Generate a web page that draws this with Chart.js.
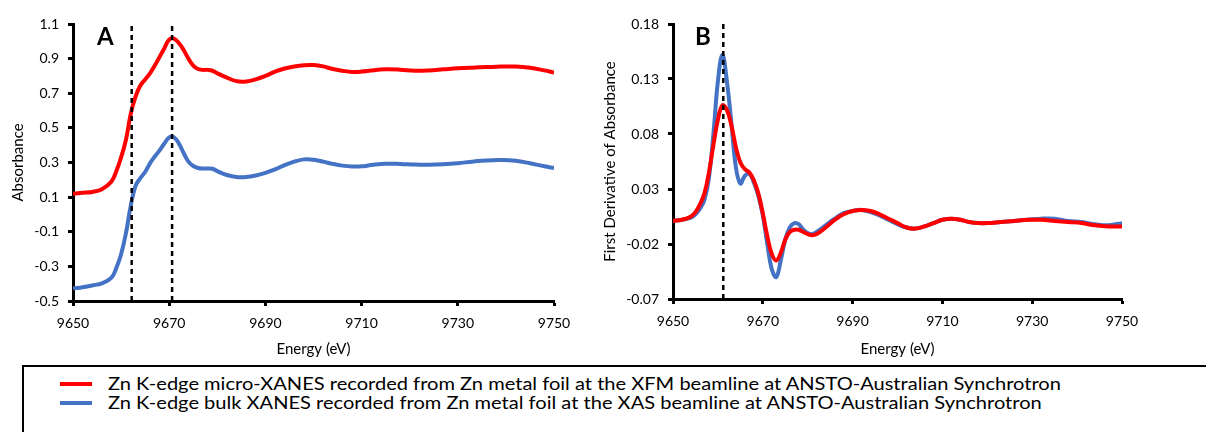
<!DOCTYPE html>
<html><head><meta charset="utf-8">
<script src="https://cdn.jsdelivr.net/npm/chart.js@4.4.1/dist/chart.umd.min.js"></script>
<style>
html,body{margin:0;padding:0;background:#fff;width:1206px;height:432px;overflow:hidden;position:relative;font-family:Lato,sans-serif;}
#cA{position:absolute;left:0;top:0;}
#cB{position:absolute;left:600px;top:0;}
#legend{position:absolute;left:22px;top:365px;width:1300px;height:120px;border-left:2px solid #000;border-top:2px solid #000;}
.sw{position:absolute;left:36px;width:32px;height:4px;}
.lt{position:absolute;left:84px;white-space:nowrap;font-size:17px;line-height:20px;color:#000;transform:scaleX(1.18);transform-origin:0 50%;}
</style></head><body>
<canvas id="cA" width="600" height="360"></canvas>
<canvas id="cB" width="606" height="360"></canvas>
<div id="legend"></div>
<script>
// ---------- data ----------
const seriesLabels = [
  "Zn K-edge micro-XANES recorded from Zn metal foil at the XFM beamline at ANSTO-Australian Synchrotron",
  "Zn K-edge bulk XANES recorded from Zn metal foil at the XAS beamline at ANSTO-Australian Synchrotron"
];
const seriesColors = ["#FF0000", "#4472C4"];

const energyA = [9650,9652,9654,9656,9658,9659,9660,9661,9662,9663,9664,9665,9666,9667,9668,9669,9670,9671,9672,9673,9674,9675,9676,9677,9678,9679,9680,9682,9684,9686,9688,9690,9692,9694,9696,9698,9700,9702,9704,9706,9708,9710,9712,9715,9718,9721,9724,9727,9730,9733,9736,9739,9742,9745,9748,9750];
const microA = [0.12,0.125,0.13,0.145,0.19,0.25,0.33,0.43,0.58,0.68,0.745,0.78,0.815,0.86,0.91,0.96,1.01,1.015,0.99,0.95,0.9,0.86,0.84,0.835,0.835,0.83,0.815,0.79,0.77,0.768,0.78,0.8,0.825,0.843,0.855,0.862,0.863,0.855,0.84,0.83,0.823,0.825,0.832,0.838,0.836,0.83,0.832,0.838,0.844,0.848,0.851,0.854,0.854,0.847,0.832,0.82];
const bulkA = [-0.427,-0.42,-0.41,-0.398,-0.365,-0.31,-0.23,-0.11,0.05,0.165,0.21,0.245,0.295,0.335,0.37,0.41,0.445,0.445,0.41,0.355,0.305,0.28,0.268,0.265,0.266,0.264,0.25,0.228,0.216,0.216,0.225,0.24,0.26,0.285,0.305,0.318,0.316,0.305,0.292,0.282,0.277,0.278,0.285,0.293,0.292,0.288,0.287,0.29,0.296,0.305,0.312,0.314,0.31,0.296,0.278,0.268];

const energyB = [9650,9652,9654,9655,9656,9657,9658,9659,9660,9661,9662,9663,9664,9665,9666,9667,9668,9669,9670,9671,9672,9673,9674,9675,9676,9677,9678,9679,9680,9681,9682,9684,9686,9688,9690,9692,9694,9696,9698,9700,9702,9704,9706,9708,9710,9712,9714,9716,9718,9720,9723,9726,9729,9732,9735,9738,9741,9744,9747,9750];
const microB = [0.001,0.002,0.005,0.009,0.016,0.026,0.045,0.07,0.093,0.106,0.102,0.088,0.068,0.054,0.048,0.045,0.038,0.026,0.008,-0.013,-0.029,-0.035,-0.028,-0.016,-0.009,-0.007,-0.007,-0.009,-0.011,-0.012,-0.011,-0.005,0.002,0.007,0.01,0.011,0.01,0.007,0.003,-0.001,-0.005,-0.006,-0.004,-0.001,0.002,0.003,0.002,0.0,-0.001,-0.001,0.0,0.001,0.002,0.002,0.001,0.0,-0.001,-0.003,-0.004,-0.004];
const bulkB = [0.001,0.002,0.004,0.007,0.012,0.02,0.04,0.08,0.128,0.152,0.128,0.09,0.05,0.035,0.042,0.044,0.036,0.024,0.006,-0.02,-0.043,-0.05,-0.035,-0.016,-0.005,-0.001,-0.002,-0.007,-0.01,-0.011,-0.009,-0.003,0.003,0.008,0.01,0.011,0.009,0.006,0.002,-0.002,-0.005,-0.006,-0.004,-0.001,0.002,0.003,0.002,0.0,-0.001,-0.001,0.0,0.001,0.002,0.003,0.003,0.001,0.0,-0.002,-0.003,-0.001];

const markersA = [9662.2, 9670.6];
const markersB = [9661.2];

const xTicks = [9650,9670,9690,9710,9730,9750];
const yTicksA = [-0.5,-0.3,-0.1,0.1,0.3,0.5,0.7,0.9,1.1];
const yTicksB = [-0.07,-0.02,0.03,0.08,0.13,0.18];

// ---------- helpers ----------
const FONT = 'Lato';
const pts = (xs, ys) => xs.map((x, i) => ({x, y: ys[i]}));

const panelLabel = {
  id: 'panelLabel',
  afterDraw(chart, args, o) {
    const ctx = chart.ctx;
    ctx.save();
    ctx.font = 'bold 24px ' + FONT;
    ctx.fillStyle = '#000';
    ctx.textBaseline = 'alphabetic';
    ctx.fillText(o.text, chart.chartArea.left + o.dx, o.y);
    ctx.restore();
  }
};

function makeChart(id, cfg) {
  const datasets = [];
  cfg.markers.forEach(m => datasets.push({
    data: [{x: m, y: cfg.yTicks[0]}, {x: m, y: cfg.yTicks[cfg.yTicks.length - 1]}],
    borderColor: '#000', borderWidth: 2.5, borderDash: [5, 4], pointRadius: 0, order: 0, tension: 0
  }));
  datasets.push({label: seriesLabels[0], data: pts(cfg.energy, cfg.micro), borderColor: seriesColors[0], borderWidth: 4, pointRadius: 0, tension: 0.4, order: 1});
  datasets.push({label: seriesLabels[1], data: pts(cfg.energy, cfg.bulk), borderColor: seriesColors[1], borderWidth: 4, pointRadius: 0, tension: 0.4, order: 2});

  return new Chart(document.getElementById(id), {
    type: 'line',
    data: {datasets},
    options: {
      responsive: false, animation: false, devicePixelRatio: 1,
      layout: {padding: {left: 0, right: cfg.padRight, top: 24, bottom: 0}},
      plugins: {legend: {display: false}, tooltip: {enabled: false},
        panelLabel: {text: cfg.label, dx: cfg.labelDx, y: 45}},
      scales: {
        x: {
          type: 'linear', min: xTicks[0], max: xTicks[xTicks.length - 1],
          afterBuildTicks: s => { s.ticks = xTicks.map(v => ({value: v})); },
          afterFit: s => { s.height = cfg.xHeight; },
          border: {display: true, color: '#000', width: 3},
          grid: {drawOnChartArea: false, drawTicks: true, tickLength: 5, tickWidth: 3, tickColor: '#000'},
          ticks: {font: {family: FONT, size: 14}, color: '#000', padding: 9, maxRotation: 0, callback: v => String(v)},
          title: {display: true, text: 'Energy (eV)', font: {family: FONT, size: 15}, color: '#000', padding: {top: 0, bottom: 2}}
        },
        y: {
          type: 'linear', min: cfg.yTicks[0], max: cfg.yTicks[cfg.yTicks.length - 1],
          afterBuildTicks: s => { s.ticks = cfg.yTicks.map(v => ({value: v})); },
          afterFit: s => { s.width = 73; },
          border: {display: true, color: '#000', width: 3},
          grid: {drawOnChartArea: false, drawTicks: true, tickLength: 5, tickWidth: 3, tickColor: '#000'},
          ticks: {font: {family: FONT, size: 14}, color: '#000', padding: 9, callback: v => v.toFixed(cfg.dec)},
          title: {display: true, text: cfg.yTitle, font: {family: FONT, size: 15}, color: '#000', padding: {top: cfg.yTitlePad, bottom: 0}}
        }
      }
    },
    plugins: [panelLabel]
  });
}

makeChart('cA', {energy: energyA, micro: microA, bulk: bulkA, markers: markersA, yTicks: yTicksA, dec: 1,
  yTitle: 'Absorbance', yTitlePad: 9, padRight: 46, xHeight: 59, label: 'A', labelDx: 24});
makeChart('cB', {energy: energyB, micro: microB, bulk: bulkB, markers: markersB, yTicks: yTicksB, dec: 2,
  yTitle: 'First Derivative of Absorbance', yTitlePad: 1, padRight: 84, xHeight: 61, label: 'B', labelDx: 22});

// ---------- legend ----------
const lg = document.getElementById('legend');
seriesLabels.forEach((t, i) => {
  const sw = document.createElement('div');
  sw.className = 'sw';
  sw.style.background = seriesColors[i];
  sw.style.top = (15 + i * 19) + 'px';
  lg.appendChild(sw);
  const tx = document.createElement('div');
  tx.className = 'lt';
  tx.style.top = (7 + i * 19) + 'px';
  tx.textContent = t;
  lg.appendChild(tx);
});
</script>
</body></html>
